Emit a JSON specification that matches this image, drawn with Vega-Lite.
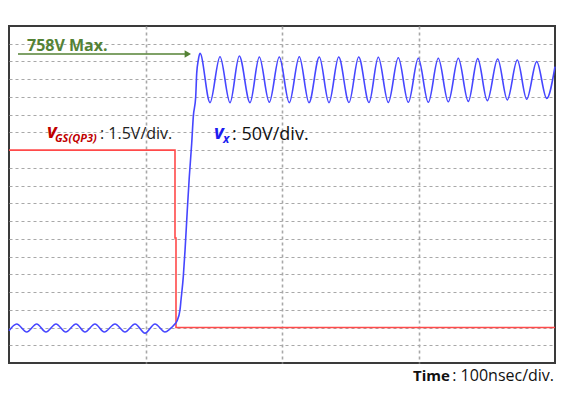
{
  "$schema": "https://vega.github.io/schema/vega-lite/v6.json",
  "width": 546,
  "height": 337,
  "autosize": {"type": "none"},
  "padding": {"left": 9, "top": 26, "right": 10, "bottom": 33},
  "background": "white",
  "config": {
    "view": {"stroke": "#3a3a3a", "strokeWidth": 2},
    "font": "Open Sans"
  },
  "datasets": {
    "vx": [
      {"i": 0, "t": 0, "v": 1.82}, {"i": 1, "t": 5.64, "v": 2.2}, {"i": 2, "t": 12.97, "v": 1.75},
      {"i": 3, "t": 20.29, "v": 2.2}, {"i": 4, "t": 27.11, "v": 1.75}, {"i": 5, "t": 34.43, "v": 2.2},
      {"i": 6, "t": 41.54, "v": 1.75}, {"i": 7, "t": 49.08, "v": 2.2}, {"i": 8, "t": 55.68, "v": 1.75},
      {"i": 9, "t": 63.0, "v": 2.2}, {"i": 10, "t": 69.82, "v": 1.75}, {"i": 11, "t": 77.66, "v": 2.2},
      {"i": 12, "t": 84.98, "v": 1.75}, {"i": 13, "t": 92.31, "v": 2.2}, {"i": 14, "t": 99.63, "v": 1.68},
      {"i": 15, "t": 106.96, "v": 2.2}, {"i": 16, "t": 114.29, "v": 1.75}, {"i": 17, "t": 117.95, "v": 1.92},
      {"i": 18, "t": 120.88, "v": 2.14}, {"i": 19, "t": 123.08, "v": 2.37}, {"i": 20, "t": 125.27, "v": 2.99},
      {"i": 21, "t": 126.01, "v": 3.55}, {"i": 22, "t": 127.69, "v": 4.87}, {"i": 23, "t": 128.94, "v": 6.32},
      {"i": 24, "t": 130.62, "v": 8.63}, {"i": 25, "t": 132.09, "v": 10.5}, {"i": 26, "t": 133.85, "v": 12.39},
      {"i": 27, "t": 135.02, "v": 13.89}, {"i": 28, "t": 136.78, "v": 15.01}, {"i": 29, "t": 137.51, "v": 16.33},
      {"i": 30, "t": 138.68, "v": 17.08}, {"i": 31, "t": 139.93, "v": 17.46},
      {"i": 32, "t": 147.25, "v": 14.68}, {"i": 33, "t": 154.58, "v": 17.27},
      {"i": 34, "t": 161.9, "v": 14.68}, {"i": 35, "t": 168.72, "v": 17.31},
      {"i": 36, "t": 176.56, "v": 14.68}, {"i": 37, "t": 183.37, "v": 17.25},
      {"i": 38, "t": 190.7, "v": 14.7}, {"i": 39, "t": 198.02, "v": 17.25},
      {"i": 40, "t": 205.35, "v": 14.68}, {"i": 41, "t": 212.67, "v": 17.27},
      {"i": 42, "t": 219.78, "v": 14.68}, {"i": 43, "t": 227.33, "v": 17.25},
      {"i": 44, "t": 234.43, "v": 14.68}, {"i": 45, "t": 241.54, "v": 17.25},
      {"i": 46, "t": 249.08, "v": 14.69}, {"i": 47, "t": 256.19, "v": 17.25},
      {"i": 48, "t": 263.74, "v": 14.69}, {"i": 49, "t": 270.55, "v": 17.24},
      {"i": 50, "t": 277.88, "v": 14.69}, {"i": 51, "t": 285.2, "v": 17.21},
      {"i": 52, "t": 292.53, "v": 14.7}, {"i": 53, "t": 299.85, "v": 17.18},
      {"i": 54, "t": 307.18, "v": 14.7}, {"i": 55, "t": 314.51, "v": 17.18},
      {"i": 56, "t": 321.83, "v": 14.73}, {"i": 57, "t": 329.16, "v": 17.18},
      {"i": 58, "t": 336.48, "v": 14.75}, {"i": 59, "t": 343.37, "v": 17.16},
      {"i": 60, "t": 350.4, "v": 14.79}, {"i": 61, "t": 358.02, "v": 17.14},
      {"i": 62, "t": 365.05, "v": 14.83}, {"i": 63, "t": 372.38, "v": 17.08},
      {"i": 64, "t": 379.27, "v": 14.87}, {"i": 65, "t": 386.59, "v": 16.99},
      {"i": 66, "t": 393.92, "v": 14.92}, {"i": 67, "t": 400, "v": 16.71}
    ],
    "vgs": [
      {"i": 0, "t": 0, "v": 12.0},
      {"i": 1, "t": 121.61, "v": 12.0},
      {"i": 2, "t": 121.61, "v": 7.05},
      {"i": 3, "t": 122.34, "v": 7.05},
      {"i": 4, "t": 122.34, "v": 2.0},
      {"i": 5, "t": 400, "v": 2.0}
    ]
  },
  "encoding": {
    "x": {
      "field": "t", "type": "quantitative",
      "scale": {"domain": [0, 400], "nice": false, "zero": false},
      "axis": {"values": [100, 200, 300], "grid": true, "gridDash": [3, 3], "gridColor": "#a8a8a8", "gridWidth": 1.6, "labels": false, "ticks": false, "domain": false, "title": null}
    },
    "y": {
      "field": "v", "type": "quantitative",
      "scale": {"domain": [0, 19], "nice": false, "zero": false},
      "axis": {"values": [1, 2, 3, 4, 5, 6, 7, 8, 9, 10, 11, 12, 13, 14, 15, 16, 17, 18], "grid": true, "gridDash": [3, 3], "gridColor": "#a8a8a8", "gridWidth": 1.2, "labels": false, "ticks": false, "domain": false, "title": null}
    }
  },
  "layer": [
    {
      "data": {"name": "vgs"},
      "mark": {"type": "line", "color": "#ff4a4a", "strokeWidth": 1.6, "interpolate": "linear"},
      "encoding": {"order": {"field": "i", "type": "quantitative"}}
    },
    {
      "data": {"name": "vx"},
      "mark": {"type": "line", "color": "#4646ff", "strokeWidth": 1.6, "interpolate": "monotone"},
      "encoding": {"order": {"field": "i", "type": "quantitative"}}
    },
    {
      "data": {"values": [{"t": 6.6, "t2": 128.9, "v": 17.42}]},
      "mark": {"type": "rule", "color": "#548235", "strokeWidth": 1.5},
      "encoding": {"x2": {"field": "t2"}}
    },
    {
      "data": {"values": [{"t": 131.0, "v": 17.42}]},
      "mark": {"type": "point", "shape": "triangle-right", "filled": true, "size": 55, "color": "#548235", "opacity": 1}
    },
    {
      "data": {"values": [{"t": 13.19, "v": 17.59, "txt": "758V Max."}]},
      "mark": {"type": "text", "align": "left", "baseline": "alphabetic", "fontSize": 16, "fontWeight": "bold", "color": "#548235"},
      "encoding": {"text": {"field": "txt"}}
    },
    {
      "data": {"values": [{"t": 27.8, "v": 12.69, "txt": "v"}]},
      "mark": {"type": "text", "align": "left", "baseline": "alphabetic", "fontSize": 19, "fontWeight": "bold", "fontStyle": "italic", "color": "#c00000"},
      "encoding": {"text": {"field": "txt"}}
    },
    {
      "data": {"values": [{"t": 33.7, "v": 12.48, "txt": "GS(QP3)"}]},
      "mark": {"type": "text", "align": "left", "baseline": "alphabetic", "fontSize": 11, "fontWeight": "bold", "fontStyle": "italic", "color": "#c00000"},
      "encoding": {"text": {"field": "txt"}}
    },
    {
      "data": {"values": [{"t": 66.67, "v": 12.61, "txt": ": 1.5V/div."}]},
      "mark": {"type": "text", "align": "left", "baseline": "alphabetic", "fontSize": 16, "color": "#222222"},
      "encoding": {"text": {"field": "txt"}}
    },
    {
      "data": {"values": [{"t": 150.18, "v": 12.63, "txt": "v"}]},
      "mark": {"type": "text", "align": "left", "baseline": "alphabetic", "fontSize": 19, "fontWeight": "bold", "fontStyle": "italic", "color": "#1c1cf0"},
      "encoding": {"text": {"field": "txt"}}
    },
    {
      "data": {"values": [{"t": 156.78, "v": 12.4, "txt": "x"}]},
      "mark": {"type": "text", "align": "left", "baseline": "alphabetic", "fontSize": 12, "fontWeight": "bold", "fontStyle": "italic", "color": "#1c1cf0"},
      "encoding": {"text": {"field": "txt"}}
    },
    {
      "data": {"values": [{"t": 163.4, "v": 12.57, "txt": ": 50V/div."}]},
      "mark": {"type": "text", "align": "left", "baseline": "alphabetic", "fontSize": 18, "color": "#111111"},
      "encoding": {"text": {"field": "txt"}}
    },
    {
      "data": {"values": [{"t": 296.0, "v": -1.01, "txt": "Time"}]},
      "mark": {"type": "text", "align": "left", "baseline": "alphabetic", "fontSize": 15, "fontWeight": "bold", "color": "#111111"},
      "encoding": {"text": {"field": "txt"}}
    },
    {
      "data": {"values": [{"t": 399.3, "v": -1.01, "txt": ": 100nsec/div."}]},
      "mark": {"type": "text", "align": "right", "baseline": "alphabetic", "fontSize": 16, "color": "#111111"},
      "encoding": {"text": {"field": "txt"}}
    }
  ]
}
